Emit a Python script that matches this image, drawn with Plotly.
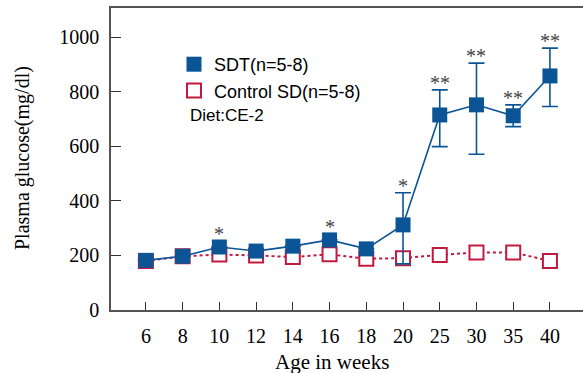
import plotly.graph_objects as go

weeks = ["6", "8", "10", "12", "14", "16", "18", "20", "25", "30", "35", "40"]
sdt = [182, 197, 231, 216, 234, 257, 224, 312, 715, 752, 712, 858]
sdt_err_plus = [0, 0, 0, 0, 0, 0, 0, 118, 92, 153, 40, 102]
sdt_err_minus = [0, 0, 0, 0, 0, 0, 0, 143, 116, 181, 40, 112]
control = [180, 197, 203, 200, 194, 204, 188, 190, 202, 211, 211, 180]
sig_labels = ["", "", "*", "", "", "*", "", "*", "**", "**", "**", "**"]

BLUE = "#0b5597"
RED = "#c2193f"
SERIF = "Liberation Serif, DejaVu Serif, serif"
SANS = "Liberation Sans, Arial, sans-serif"

fig = go.Figure()
fig.add_trace(go.Scatter(x=weeks, y=control, mode="lines", line=dict(color=RED, width=2, dash="dot"),
                         showlegend=False, hoverinfo="skip"))
fig.add_trace(go.Scatter(x=weeks, y=control, mode="markers", name="Control SD(n=5-8)",
                         marker=dict(symbol="square", size=14, color="white", line=dict(color=RED, width=2))))
fig.add_trace(go.Scatter(x=weeks, y=sdt, mode="lines", line=dict(color=BLUE, width=1.6),
                         showlegend=False, hoverinfo="skip"))
fig.add_trace(go.Scatter(x=weeks, y=sdt, mode="markers", name="SDT(n=5-8)",
                         marker=dict(symbol="square", size=15, color=BLUE, line=dict(width=0)),
                         error_y=dict(type="data", symmetric=False, array=sdt_err_plus, arrayminus=sdt_err_minus,
                                      color=BLUE, thickness=1.6, width=8)))

for i, (v, ep, lab) in enumerate(zip(sdt, sdt_err_plus, sig_labels)):
    if not lab:
        continue
    top = v + ep
    shift = -6 if ep > 0 else 0
    fig.add_annotation(x=i, y=top, text=lab, showarrow=False, yanchor="bottom", yshift=shift,
                       font=dict(family=SERIF, size=20, color="#444444"))

fig.add_annotation(xref="paper", yref="paper", x=(188 - 111) / 472, y=(310 - 115) / 302, text="Diet:CE-2",
                   showarrow=False, xanchor="left", yanchor="middle", font=dict(family=SANS, size=17, color="black"))
fig.add_annotation(xref="paper", yref="paper", x=(332 - 111) / 472, y=(310 - 362) / 302, text="Age in weeks",
                   showarrow=False, xanchor="center", yanchor="middle", font=dict(family=SERIF, size=21, color="black"))
fig.add_annotation(xref="paper", yref="paper", x=(22 - 111) / 472, y=(310 - 158) / 302, text="Plasma glucose(mg/dl)",
                   textangle=-90, showarrow=False, xanchor="center", yanchor="middle",
                   font=dict(family=SERIF, size=20, color="black"))

fig.update_layout(
    width=583, height=373,
    margin=dict(l=111, r=0, t=8, b=63),
    plot_bgcolor="white", paper_bgcolor="white",
    showlegend=True,
    legend=dict(x=(174 - 111) / 472, y=(310 - 46) / 302, xanchor="left", yanchor="top",
                font=dict(family=SANS, size=18, color="black"), bgcolor="rgba(0,0,0,0)",
                traceorder="reversed", tracegroupgap=0),
    xaxis=dict(type="category", range=[-0.95, 11.9], showgrid=False, zeroline=False,
               showline=True, linecolor="#555555", linewidth=1.5, mirror=True,
               ticks="inside", ticklen=8, tickcolor="#333333", tickwidth=1.2,
               tickfont=dict(family=SERIF, size=20, color="black"), ticklabelstandoff=7),
    yaxis=dict(range=[0, 1107], showgrid=False, zeroline=False,
               showline=True, linecolor="#555555", linewidth=1.5,
               ticks="inside", ticklen=10, tickcolor="#333333", tickwidth=1.2,
               tickvals=[0, 200, 400, 600, 800, 1000],
               tickfont=dict(family=SERIF, size=20, color="black"), ticklabelstandoff=6),
)

fig.write_html("out.html", config={"displayModeBar": False},
               post_script="document.body.style.margin='0px';document.body.style.padding='0px';")
